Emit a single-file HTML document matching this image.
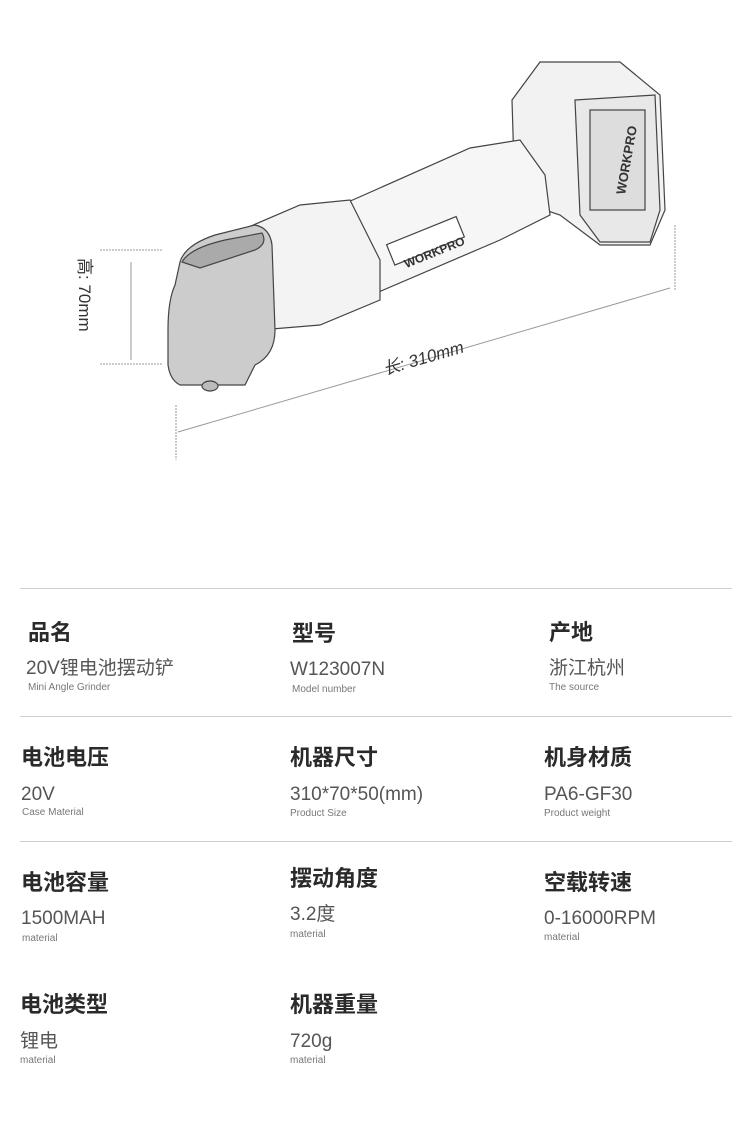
<!DOCTYPE html>
<html><head><meta charset="utf-8"><style>
body{margin:0;width:750px;height:1131px;background:#fff;position:relative;overflow:hidden;font-family:"Liberation Sans","Noto Sans CJK SC",sans-serif;}
.t{position:absolute;font-size:22px;font-weight:bold;color:#2a2a2a;line-height:1;white-space:nowrap}
.v{position:absolute;font-size:19px;color:#555;line-height:1;white-space:nowrap}
.s{position:absolute;font-size:10px;color:#777;line-height:1;white-space:nowrap}
.l{position:absolute;left:20px;width:712px;height:1px;background:#cfcfcf}
</style></head><body>
<svg width="750" height="500" style="position:absolute;left:0;top:0" xmlns="http://www.w3.org/2000/svg">
<g stroke="#999" stroke-width="1" fill="none">
<line x1="100" y1="250" x2="163" y2="250" stroke-dasharray="2,1"/>
<line x1="100" y1="364" x2="163" y2="364" stroke-dasharray="2,1"/>
<line x1="131" y1="262" x2="131" y2="360"/>
<line x1="178" y1="432" x2="670" y2="288"/>
<line x1="176" y1="405" x2="176" y2="460" stroke-dasharray="2,1"/>
<line x1="675" y1="225" x2="675" y2="290" stroke-dasharray="2,1"/>
</g>
<g stroke="#444" stroke-width="1.2" fill="#f4f4f4">
<!-- battery -->
<path d="M512 100 L540 62 L620 62 L660 95 L665 210 L650 245 L600 245 L560 215 L515 200 Z" fill="#f2f2f2"/>
<path d="M575 100 L655 95 L660 210 L650 242 L600 242 L580 215 Z" fill="#e8e8e8"/>
<rect x="590" y="110" width="55" height="100" fill="#ddd"/>
<!-- body tube -->
<path d="M330 210 L470 148 L520 140 L545 175 L550 215 L500 240 L360 300 Z" fill="#f6f6f6"/>
<path d="M230 235 L300 205 L350 200 L380 260 L380 300 L320 325 L260 330 Z" fill="#f3f3f3"/>
<rect x="388" y="230" width="75" height="22" transform="rotate(-22 425 241)" fill="#fff"/>
<!-- head -->
<path d="M180 262 Q185 245 215 235 L255 225 Q270 228 272 245 L275 330 Q275 355 255 365 L245 385 L180 385 Q170 380 168 365 L168 330 Q168 300 175 285 Z" fill="#ccc"/>
<path d="M182 262 Q190 248 225 240 L262 233 Q268 244 255 250 L200 268 Z" fill="#aaa"/>
<ellipse cx="210" cy="386" rx="8" ry="5" fill="#bbb"/>
</g>
<text x="402" y="260" font-size="12" font-weight="bold" fill="#333" transform="rotate(-22 425 253)" font-family="Liberation Sans,sans-serif">WORKPRO</text>
<text x="0" y="0" font-size="13" font-weight="bold" fill="#333" transform="translate(625 195) rotate(-80)" font-family="Liberation Sans,sans-serif">WORKPRO</text>
<text x="0" y="0" font-size="17" fill="#333" transform="translate(79 258) rotate(90)" font-family="Liberation Sans,Noto Sans CJK SC,sans-serif">高: 70mm</text>
<text x="0" y="0" font-size="17" fill="#333" transform="translate(385 375) rotate(-16)" font-family="Liberation Sans,Noto Sans CJK SC,sans-serif" font-style="italic">长: 310mm</text>
<text x="745" y="518" font-size="12" fill="#444" text-anchor="end" font-family="Liberation Sans,Noto Sans CJK SC,sans-serif">注:以上数据均手工测量，会有一定的误差，请以实物为准</text>
</svg>
<div class="l" style="top:588px"></div>
<div class="l" style="top:716px"></div>
<div class="l" style="top:841px"></div>

<div class="t" style="left:28px;top:622px">品名</div>
<div class="v" style="left:26px;top:659px">20V锂电池摆动铲</div>
<div class="s" style="left:28px;top:683px">Mini Angle Grinder</div>
<div class="t" style="left:292px;top:623px">型号</div>
<div class="v" style="left:290px;top:660px">W123007N</div>
<div class="s" style="left:292px;top:685px">Model number</div>
<div class="t" style="left:549px;top:622px">产地</div>
<div class="v" style="left:549px;top:659px">浙江杭州</div>
<div class="s" style="left:549px;top:683px">The source</div>

<div class="t" style="left:21px;top:747px">电池电压</div>
<div class="v" style="left:21px;top:785px">20V</div>
<div class="s" style="left:22px;top:808px">Case Material</div>
<div class="t" style="left:290px;top:747px">机器尺寸</div>
<div class="v" style="left:290px;top:785px">310*70*50(mm)</div>
<div class="s" style="left:290px;top:809px">Product Size</div>
<div class="t" style="left:544px;top:747px">机身材质</div>
<div class="v" style="left:544px;top:785px">PA6-GF30</div>
<div class="s" style="left:544px;top:809px">Product weight</div>

<div class="t" style="left:21px;top:872px">电池容量</div>
<div class="v" style="left:21px;top:909px">1500MAH</div>
<div class="s" style="left:22px;top:934px">material</div>
<div class="t" style="left:290px;top:868px">摆动角度</div>
<div class="v" style="left:290px;top:905px">3.2度</div>
<div class="s" style="left:290px;top:930px">material</div>
<div class="t" style="left:544px;top:872px">空载转速</div>
<div class="v" style="left:544px;top:909px">0-16000RPM</div>
<div class="s" style="left:544px;top:933px">material</div>

<div class="t" style="left:20px;top:994px">电池类型</div>
<div class="v" style="left:20px;top:1032px">锂电</div>
<div class="s" style="left:20px;top:1056px">material</div>
<div class="t" style="left:290px;top:994px">机器重量</div>
<div class="v" style="left:290px;top:1032px">720g</div>
<div class="s" style="left:290px;top:1056px">material</div>
</body></html>
